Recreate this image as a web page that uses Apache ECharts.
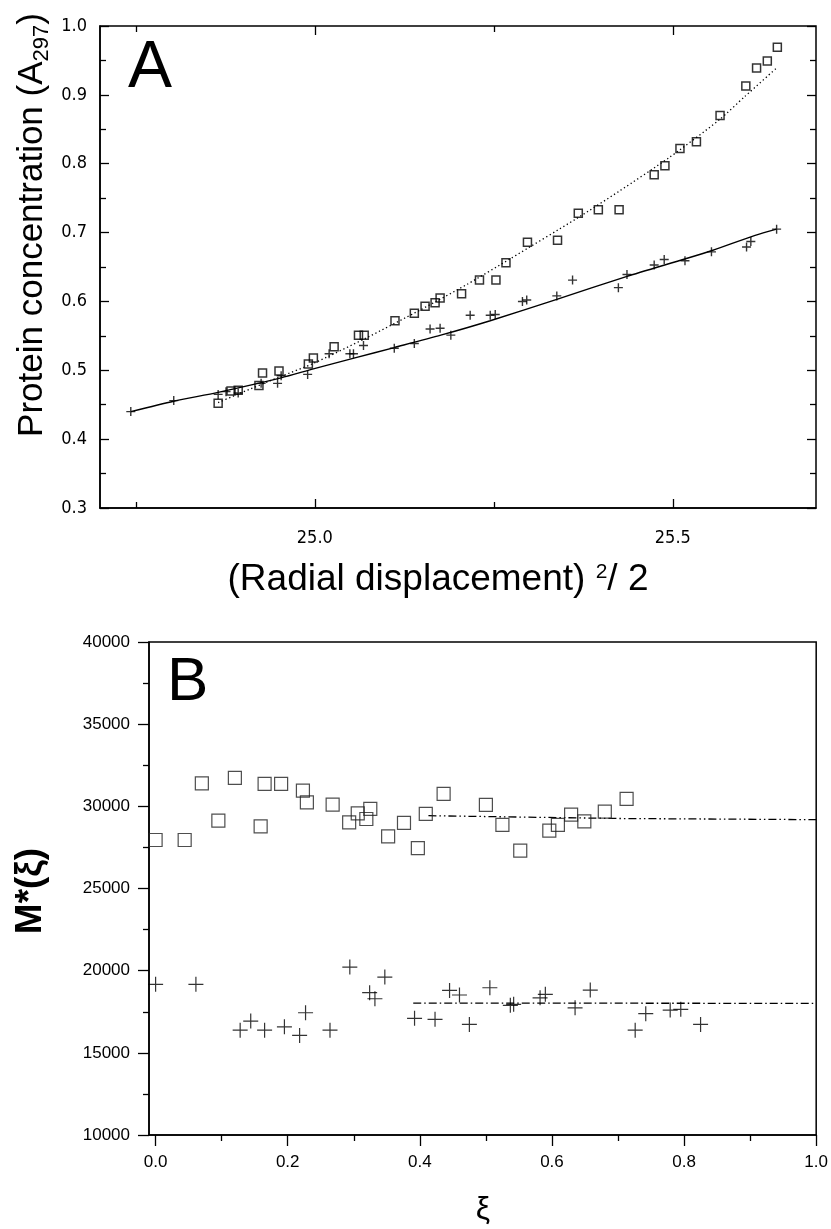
<!DOCTYPE html>
<html>
<head>
<meta charset="utf-8">
<script src="https://cdn.jsdelivr.net/npm/echarts@6/dist/echarts.min.js"></script>
<style>
html,body{margin:0;padding:0;background:#fff;}
#c{width:831px;height:1229px;}
</style>
</head>
<body>
<div id="c"></div>
<script>
// ---------- Panel A data ----------
const aSquareX = [24.865,24.883,24.893,24.922,24.927,24.950,24.991,24.998,25.027,25.061,25.069,25.112,25.139,25.154,25.168,25.175,25.205,25.230,25.253,25.267,25.297,25.339,25.368,25.396,25.425,25.474,25.489,25.510,25.533,25.566,25.602,25.617,25.632,25.646];
const aSquareY = [0.452,0.470,0.471,0.478,0.496,0.499,0.509,0.518,0.534,0.551,0.551,0.572,0.583,0.593,0.598,0.605,0.611,0.631,0.631,0.656,0.686,0.689,0.728,0.733,0.733,0.784,0.797,0.822,0.832,0.870,0.913,0.939,0.949,0.969];
const aCrossX = [24.743,24.803,24.865,24.876,24.893,24.925,24.948,24.953,24.990,25.020,25.049,25.054,25.068,25.111,25.139,25.161,25.175,25.190,25.217,25.245,25.252,25.290,25.296,25.338,25.360,25.424,25.436,25.474,25.488,25.517,25.554,25.603,25.609,25.645];
const aCrossY = [0.440,0.456,0.465,0.469,0.467,0.481,0.481,0.492,0.494,0.524,0.524,0.524,0.536,0.532,0.539,0.560,0.561,0.551,0.580,0.580,0.581,0.600,0.602,0.608,0.631,0.620,0.639,0.653,0.661,0.659,0.672,0.679,0.687,0.705];
const aFitSquareX = [24.865,24.894,24.950,24.998,25.070,25.148,25.213,25.273,25.365,25.425,25.495,25.564,25.601,25.645];
const aFitSquareY = [0.453,0.466,0.490,0.510,0.546,0.588,0.625,0.662,0.720,0.760,0.809,0.863,0.898,0.939];
const aFitCrossX = [24.743,24.803,24.865,24.953,24.998,25.056,25.111,25.176,25.245,25.338,25.435,25.518,25.555,25.615,25.645];
const aFitCrossY = [0.440,0.455,0.468,0.489,0.502,0.518,0.533,0.551,0.572,0.603,0.636,0.662,0.674,0.696,0.705];
const aXMajorTicks = [25.0, 25.5];
const aXMinorTicks = [24.75, 25.25];

// ---------- Panel B data ----------
const bSquareXi = [0.000,0.044,0.070,0.095,0.120,0.159,0.165,0.190,0.223,0.229,0.268,0.293,0.306,0.319,0.325,0.352,0.376,0.397,0.409,0.436,0.500,0.525,0.552,0.596,0.609,0.629,0.649,0.680,0.713];
const bSquareM = [27950,27950,31400,29130,31730,28780,31370,31370,30960,30240,30100,29020,29570,29230,29840,28170,28990,27460,29540,30760,30090,28870,27300,28520,28870,29490,29090,29680,30450];
const bCrossXi = [0.000,0.061,0.128,0.144,0.165,0.195,0.218,0.227,0.264,0.294,0.324,0.332,0.347,0.392,0.423,0.445,0.460,0.475,0.506,0.537,0.542,0.582,0.590,0.635,0.658,0.726,0.742,0.779,0.795,0.825];
const bCrossM = [19170,19170,16380,16930,16380,16580,16060,17440,16380,20220,18660,18290,19610,17100,17040,18800,18520,16730,18960,17890,17950,18350,18560,17740,18820,16380,17380,17600,17650,16730];
const bFitSquareXi = [0.413, 0.700, 1.000];
const bFitSquareM = [29430, 29260, 29190];
const bFitCrossXi = [0.390, 0.700, 1.000];
const bFitCrossM = [18030, 18020, 18010];
const bXMajorTicks = [0, 0.2, 0.4, 0.6, 0.8, 1.0];
const bXMinorTicks = [0.1, 0.3, 0.5, 0.7, 0.9];

const zip = (xs, ys) => xs.map((x, i) => [x, ys[i]]);
const NARROW = "'Liberation Sans Narrow','Arial Narrow','DejaVu Sans Condensed',sans-serif";
const SANS = "'Liberation Sans',Arial,Helvetica,sans-serif";
const CROSS = 'path://M0,5 L10,5 M5,0 L5,10';
const black = '#000';
const lineAx = { show: true, onZero: false, lineStyle: { color: black, width: 1.5 } };
const noLine = { show: false, onZero: false };

const chart = echarts.init(document.getElementById('c'), null, { renderer: 'canvas' });

const option = {
  animation: false,
  backgroundColor: '#fff',
  grid: [
    { left: 100, top: 26, width: 716, height: 482, show: true, borderColor: black, borderWidth: 1.5, backgroundColor: 'transparent' },
    { left: 149, top: 642, width: 668, height: 493, show: true, borderColor: black, borderWidth: 1.5, backgroundColor: 'transparent' }
  ],
  xAxis: [
    { gridIndex: 0, type: 'value', position: 'bottom', min: 24.7, max: 25.7,
      axisLine: lineAx, splitLine: { show: false },
      axisTick: { show: true, inside: true, length: 9, customValues: aXMajorTicks, lineStyle: { color: black, width: 1.3 } },
      axisLabel: { show: true, customValues: aXMajorTicks, formatter: v => v.toFixed(1), color: black, fontSize: 18, fontFamily: NARROW, margin: 21 } },
    { gridIndex: 0, type: 'value', position: 'bottom', min: 24.7, max: 25.7,
      axisLine: noLine, splitLine: { show: false }, axisLabel: { show: false },
      axisTick: { show: true, inside: true, length: 6, customValues: aXMinorTicks, lineStyle: { color: black, width: 1.3 } } },
    { gridIndex: 0, type: 'value', position: 'top', min: 24.7, max: 25.7,
      axisLine: noLine, splitLine: { show: false }, axisLabel: { show: false },
      axisTick: { show: true, inside: true, length: 9, customValues: aXMajorTicks, lineStyle: { color: black, width: 1.3 } } },
    { gridIndex: 0, type: 'value', position: 'top', min: 24.7, max: 25.7,
      axisLine: noLine, splitLine: { show: false }, axisLabel: { show: false },
      axisTick: { show: true, inside: true, length: 6, customValues: aXMinorTicks, lineStyle: { color: black, width: 1.3 } } },
    { gridIndex: 1, type: 'value', position: 'bottom', min: -0.01, max: 1.0,
      axisLine: lineAx, splitLine: { show: false },
      axisTick: { show: true, inside: false, length: 11, customValues: bXMajorTicks, lineStyle: { color: black, width: 1.3 } },
      axisLabel: { show: true, customValues: bXMajorTicks, formatter: v => v.toFixed(1), color: black, fontSize: 17, fontFamily: SANS, margin: 19 } },
    { gridIndex: 1, type: 'value', position: 'bottom', min: -0.01, max: 1.0,
      axisLine: noLine, splitLine: { show: false }, axisLabel: { show: false },
      axisTick: { show: true, inside: false, length: 6, customValues: bXMinorTicks, lineStyle: { color: black, width: 1.3 } } }
  ],
  yAxis: [
    { gridIndex: 0, type: 'value', position: 'left', min: 0.3, max: 1.0, interval: 0.1,
      axisLine: lineAx, splitLine: { show: false },
      axisTick: { show: true, inside: true, length: 9, lineStyle: { color: black, width: 1.3 } },
      minorTick: { show: true, splitNumber: 2, length: 6, lineStyle: { color: black, width: 1.3 } },
      axisLabel: { formatter: v => v.toFixed(1), color: black, fontSize: 18, fontFamily: NARROW, margin: 13 } },
    { gridIndex: 0, type: 'value', position: 'right', min: 0.3, max: 1.0, interval: 0.1,
      axisLine: noLine, splitLine: { show: false }, axisLabel: { show: false },
      axisTick: { show: true, inside: true, length: 9, lineStyle: { color: black, width: 1.3 } },
      minorTick: { show: true, splitNumber: 2, length: 6, lineStyle: { color: black, width: 1.3 } } },
    { gridIndex: 1, type: 'value', position: 'left', min: 10000, max: 40000, interval: 5000,
      axisLine: lineAx, splitLine: { show: false },
      axisTick: { show: true, inside: false, length: 11, lineStyle: { color: black, width: 1.3 } },
      minorTick: { show: true, splitNumber: 2, length: 6, lineStyle: { color: black, width: 1.3 } },
      axisLabel: { formatter: v => String(v), color: black, fontSize: 17, fontFamily: SANS, margin: 19 } }
  ],
  series: [
    { type: 'line', xAxisIndex: 0, yAxisIndex: 0, data: zip(aFitSquareX, aFitSquareY), smooth: 0.25, symbol: 'none',
      lineStyle: { color: black, width: 1.3, type: [1.3, 2.7] }, z: 2 },
    { type: 'line', xAxisIndex: 0, yAxisIndex: 0, data: zip(aFitCrossX, aFitCrossY), smooth: 0.25, symbol: 'none',
      lineStyle: { color: black, width: 1.4, type: 'solid' }, z: 2 },
    { type: 'scatter', xAxisIndex: 0, yAxisIndex: 0, data: zip(aSquareX, aSquareY), symbol: 'rect', symbolSize: 8,
      itemStyle: { color: 'rgba(255,255,255,0)', borderColor: black, borderWidth: 1.5 }, z: 3 },
    { type: 'scatter', xAxisIndex: 0, yAxisIndex: 0, data: zip(aCrossX, aCrossY), symbol: CROSS, symbolSize: 9,
      itemStyle: { color: 'none', borderColor: black, borderWidth: 1.4 }, z: 3 },

    { type: 'line', xAxisIndex: 4, yAxisIndex: 2, data: zip(bFitSquareXi, bFitSquareM), symbol: 'none',
      lineStyle: { color: black, width: 1.3, type: [8, 3, 1.5, 3, 1.5, 3] }, z: 2 },
    { type: 'line', xAxisIndex: 4, yAxisIndex: 2, data: zip(bFitCrossXi, bFitCrossM), symbol: 'none',
      lineStyle: { color: black, width: 1.3, type: [8, 3, 1.5, 3] }, z: 2 },
    { type: 'scatter', xAxisIndex: 4, yAxisIndex: 2, data: zip(bSquareXi, bSquareM), symbol: 'rect', symbolSize: 13,
      itemStyle: { color: 'rgba(255,255,255,0)', borderColor: '#222', borderWidth: 1.2 }, z: 3 },
    { type: 'scatter', xAxisIndex: 4, yAxisIndex: 2, data: zip(bCrossXi, bCrossM), symbol: CROSS, symbolSize: 15,
      itemStyle: { color: 'none', borderColor: black, borderWidth: 1.2 }, z: 3 }
  ],
  graphic: [
    { type: 'text', left: 128, top: 36, style: { text: 'A', fontSize: 66, fontFamily: SANS, fill: black } },
    { type: 'text', left: 167, top: 652, style: { text: 'B', fontSize: 62, fontFamily: SANS, fill: black } },
    { type: 'text', x: 32, y: 225, rotation: Math.PI / 2,
      style: { text: '{n|Protein concentration (A}{s|297}{n|)}', align: 'center', verticalAlign: 'middle', fill: black,
        rich: { n: { fontSize: 35, fontFamily: SANS, lineHeight: 42, fill: black },
                s: { fontSize: 22, fontFamily: SANS, lineHeight: 42, verticalAlign: 'bottom', fill: black } } } },
    { type: 'text', x: 438, y: 580,
      style: { text: '{n|(Radial displacement) }{p|2}{n|/ 2}', align: 'center', verticalAlign: 'middle', fill: black,
        rich: { n: { fontSize: 37, fontFamily: SANS, lineHeight: 44, fill: black },
                p: { fontSize: 21, fontFamily: SANS, lineHeight: 44, verticalAlign: 'top', padding: [4, 0, 0, 0], fill: black } } } },
    { type: 'text', x: 31, y: 891, rotation: Math.PI / 2,
      style: { text: 'M*(ξ)', align: 'center', verticalAlign: 'middle', fontSize: 37, fontWeight: 'bold', fontFamily: SANS, fill: black } },
    { type: 'text', x: 483, y: 1210,
      style: { text: 'ξ', align: 'center', verticalAlign: 'middle', fontSize: 32, fontFamily: SANS, fill: black } }
  ]
};
chart.setOption(option);
</script>
</body>
</html>
